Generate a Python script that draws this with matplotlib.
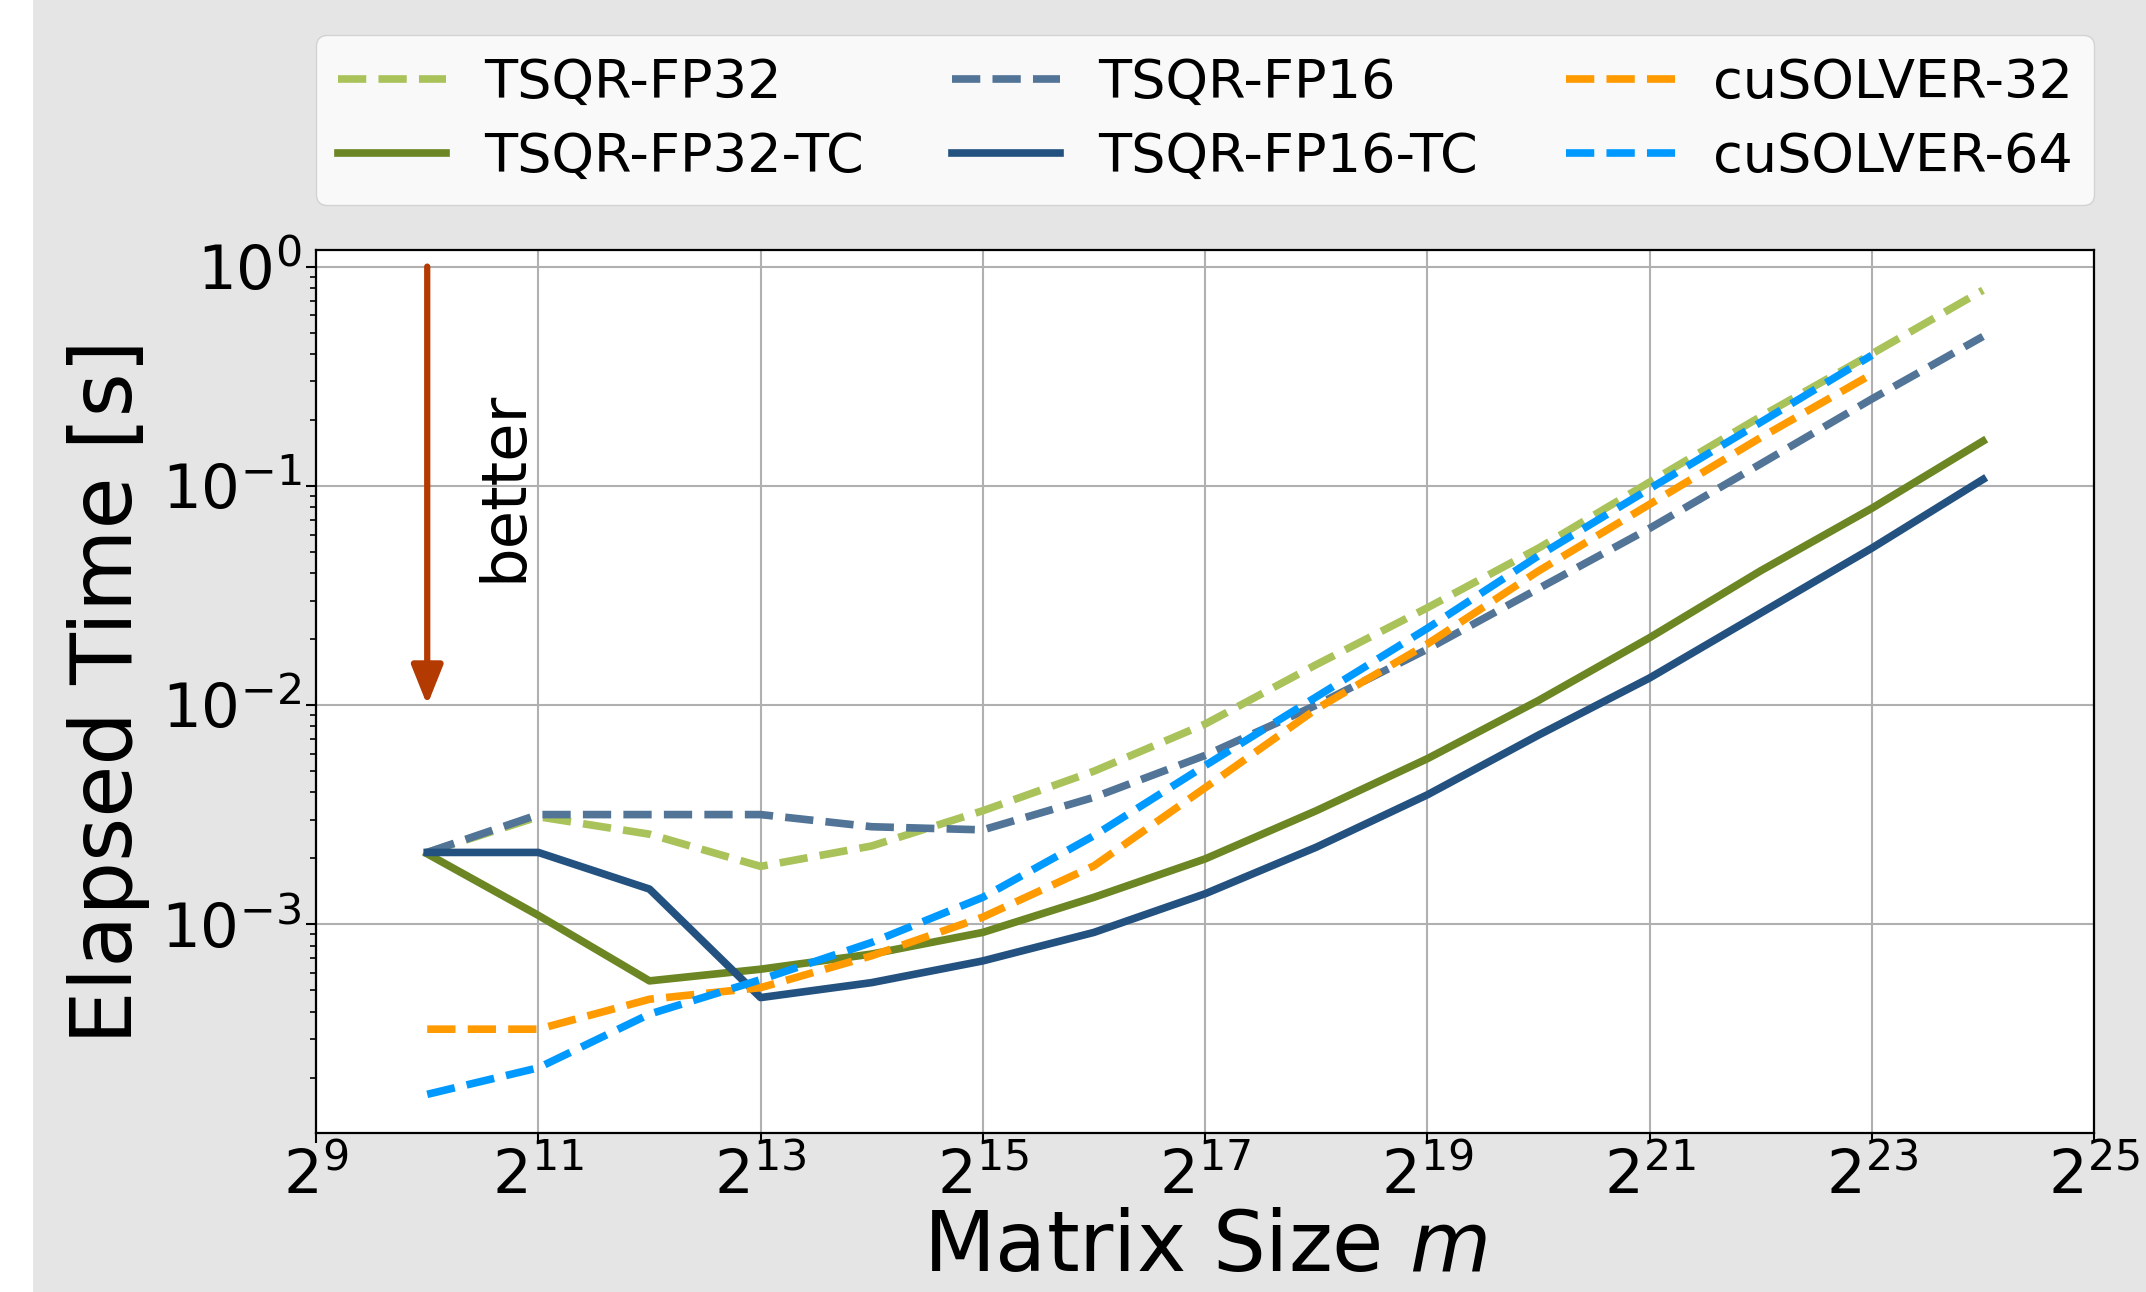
import matplotlib
matplotlib.use("Agg")
import matplotlib.pyplot as plt
from matplotlib.patches import Rectangle
from matplotlib.ticker import FixedLocator

# matrix sizes m = 2^10 ... 2^24
exps = list(range(10, 25))
exps_cu = list(range(10, 24))

tsqr_fp32 = [2.13e-3, 3.1e-3, 2.58e-3, 1.84e-3, 2.28e-3, 3.3e-3, 5.0e-3, 8.2e-3,
             1.53e-2, 2.78e-2, 5.2e-2, 0.104, 0.207, 0.40, 0.78]
tsqr_fp32_tc = [2.1e-3, 1.1e-3, 5.53e-4, 6.25e-4, 7.33e-4, 9.2e-4, 1.33e-3, 1.99e-3,
                3.3e-3, 5.7e-3, 1.05e-2, 2.03e-2, 4.1e-2, 7.9e-2, 0.16]
tsqr_fp16 = [2.13e-3, 3.17e-3, 3.17e-3, 3.17e-3, 2.79e-3, 2.7e-3, 3.8e-3, 5.9e-3,
             1.0e-2, 1.8e-2, 3.4e-2, 6.4e-2, 0.126, 0.249, 0.48]
tsqr_fp16_tc = [2.13e-3, 2.13e-3, 1.45e-3, 4.64e-4, 5.43e-4, 6.82e-4, 9.2e-4, 1.38e-3,
                2.25e-3, 3.9e-3, 7.3e-3, 1.33e-2, 2.63e-2, 5.2e-2, 0.107]
cusolver_32 = [3.33e-4, 3.33e-4, 4.56e-4, 5.15e-4, 7.2e-4, 1.08e-3, 1.85e-3, 4.2e-3,
               9.6e-3, 1.9e-2, 4.09e-2, 8.24e-2, 0.166, 0.323]
cusolver_64 = [1.68e-4, 2.22e-4, 3.9e-4, 5.6e-4, 8.28e-4, 1.33e-3, 2.54e-3, 5.3e-3,
               1.09e-2, 2.24e-2, 4.8e-2, 9.7e-2, 0.195, 0.394]

x = [2 ** e for e in exps]
x_cu = [2 ** e for e in exps_cu]

fig = plt.figure(figsize=(21.46, 12.92), dpi=100, facecolor='#e5e5e5')
fig.patches.append(Rectangle((0, 0), 33 / 2146, 1, transform=fig.transFigure,
                             facecolor='white', edgecolor='none', zorder=-1))
ax = fig.add_axes([0.1473, 0.1231, 0.8285, 0.6834])

lw = 5.5
ax.plot(x, tsqr_fp32, '--', color='#aac25a', lw=lw, label='TSQR-FP32')
ax.plot(x, tsqr_fp32_tc, '-', color='#6b8622', lw=lw, label='TSQR-FP32-TC')
ax.plot(x, tsqr_fp16, '--', color='#517497', lw=lw, label='TSQR-FP16')
ax.plot(x, tsqr_fp16_tc, '-', color='#245280', lw=lw, label='TSQR-FP16-TC')
ax.plot(x_cu, cusolver_32, '--', color='#ff9a00', lw=lw, label='cuSOLVER-32')
ax.plot(x_cu, cusolver_64, '--', color='#0099ff', lw=lw, label='cuSOLVER-64')

ax.set_xscale('log', base=2)
ax.set_yscale('log')
ax.set_xlim(2 ** 9, 2 ** 25)
ax.set_ylim(1.12e-4, 1.19)
ax.xaxis.set_major_locator(FixedLocator([2 ** e for e in range(9, 26, 2)]))
ax.xaxis.set_minor_locator(FixedLocator([]))
ax.grid(True, which='major', color='#b0b0b0', lw=1.5)

ax.tick_params(axis='both', which='major', labelsize=44, length=7, width=1.5)
ax.tick_params(axis='y', which='minor', length=4, width=1.2)
for s in ax.spines.values():
    s.set_linewidth(1.6)

ax.set_xlabel('Matrix Size $m$', fontsize=60, labelpad=0)
ax.set_ylabel('Elapsed Time [s]', fontsize=61, labelpad=8)

# "better" arrow
ax.annotate('', xy=(2 ** 10, 1e-2), xytext=(2 ** 10, 1.0),
            arrowprops=dict(arrowstyle='-|>,head_length=0.6,head_width=0.24',
                            mutation_scale=40, color='#b33a00', lw=4.5,
                            shrinkA=0, shrinkB=0))
ax.text(2 ** 10.69, 1e-1, 'better', rotation=90, fontsize=45,
        ha='center', va='center')

ax.legend(loc='lower left', bbox_to_anchor=(0, 1.051, 1, 0.194), mode='expand',
          ncol=3, fontsize=39, borderaxespad=0, handlelength=2.0,
          handletextpad=0.7, labelspacing=0.42)

fig.savefig('out.png', dpi=100, facecolor=fig.get_facecolor())
